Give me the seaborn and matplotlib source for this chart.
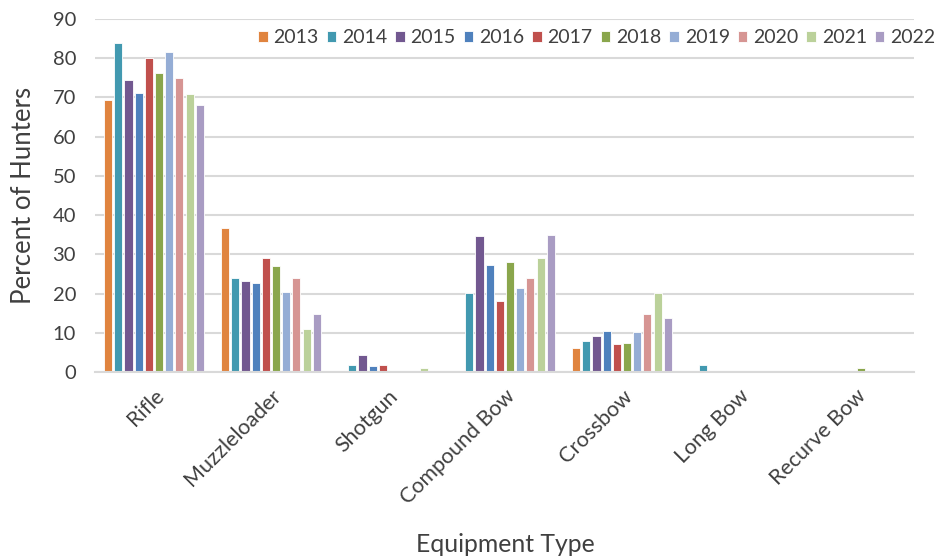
import matplotlib
matplotlib.use("Agg")
import matplotlib.pyplot as plt
import seaborn as sns
import pandas as pd

categories = ["Rifle", "Muzzleloader", "Shotgun", "Compound Bow", "Crossbow", "Long Bow", "Recurve Bow"]
years = ["2013", "2014", "2015", "2016", "2017", "2018", "2019", "2020", "2021", "2022"]
v2013 = [69.4, 36.7, 0.0, 0.0, 6.0, 0.0, 0.0]
v2014 = [84.0, 23.9, 1.9, 20.1, 7.8, 1.9, 0.0]
v2015 = [74.5, 23.1, 4.4, 34.8, 9.1, 0.0, 0.0]
v2016 = [71.2, 22.6, 1.5, 27.2, 10.4, 0.0, 0.0]
v2017 = [80.0, 29.0, 1.7, 18.0, 7.1, 0.0, 0.0]
v2018 = [76.2, 27.1, 0.0, 28.1, 7.4, 0.0, 0.9]
v2019 = [81.7, 20.3, 0.0, 21.3, 10.1, 0.0, 0.0]
v2020 = [75.0, 24.0, 0.0, 23.9, 14.8, 0.0, 0.0]
v2021 = [70.8, 11.0, 0.9, 29.1, 20.1, 0.0, 0.0]
v2022 = [68.1, 14.8, 0.0, 35.0, 13.7, 0.0, 0.0]
series = [v2013, v2014, v2015, v2016, v2017, v2018, v2019, v2020, v2021, v2022]
colors = ["#E0843F", "#4299B0", "#725890", "#4F81BD", "#C0504D",
          "#8AA64C", "#95ADD5", "#D69593", "#BBD19A", "#A99CC3"]

rows = []
for y, vals in zip(years, series):
    for c, v in zip(categories, vals):
        rows.append({"Equipment": c, "Year": y, "Value": v})
df = pd.DataFrame(rows)

sns.set_theme(style="white")
plt.rcParams["font.family"] = ["Lato", "DejaVu Sans"]

fig = plt.figure(figsize=(9.45, 5.58), dpi=100)
ax = fig.add_axes([0.101, 0.3333, 0.8667, 0.6327])

sns.barplot(data=df, x="Equipment", y="Value", hue="Year", order=categories,
            hue_order=years, palette=colors, saturation=1, width=0.87, gap=0.2,
            edgecolor="white", linewidth=0.6, ax=ax, legend=True, errorbar=None)

ax.set_ylim(0, 90)
ax.set_xlim(-0.5, 6.5)
ax.set_yticks(range(0, 91, 10))
ax.yaxis.grid(True, color="#D9D9D9", linewidth=1.5)
ax.set_axisbelow(True)
for s in ["top", "right", "left"]:
    ax.spines[s].set_visible(False)
ax.spines["bottom"].set_color("#D9D9D9")
ax.spines["bottom"].set_linewidth(1.5)
ax.tick_params(axis="y", length=0, labelsize=14.5, colors="#404040", pad=14)
ax.tick_params(axis="x", length=0, labelsize=15.5, colors="#404040", pad=10)
plt.setp(ax.get_xticklabels(), rotation=45, ha="right", rotation_mode="anchor")
ax.set_xlabel("Equipment Type", fontsize=17.8, color="#404040", labelpad=18)
ax.set_ylabel("Percent of Hunters", fontsize=18.5, color="#404040", labelpad=12)

ax.legend(ncol=10, loc="center left", bbox_to_anchor=(0.273, 0.932), bbox_transform=fig.transFigure,
          frameon=False, fontsize=14, handlelength=0.5, handleheight=0.5,
          handletextpad=0.3, columnspacing=0.4, borderaxespad=0.0, borderpad=0.0,
          labelcolor="#404040")

fig.savefig("out.png", dpi=100)
